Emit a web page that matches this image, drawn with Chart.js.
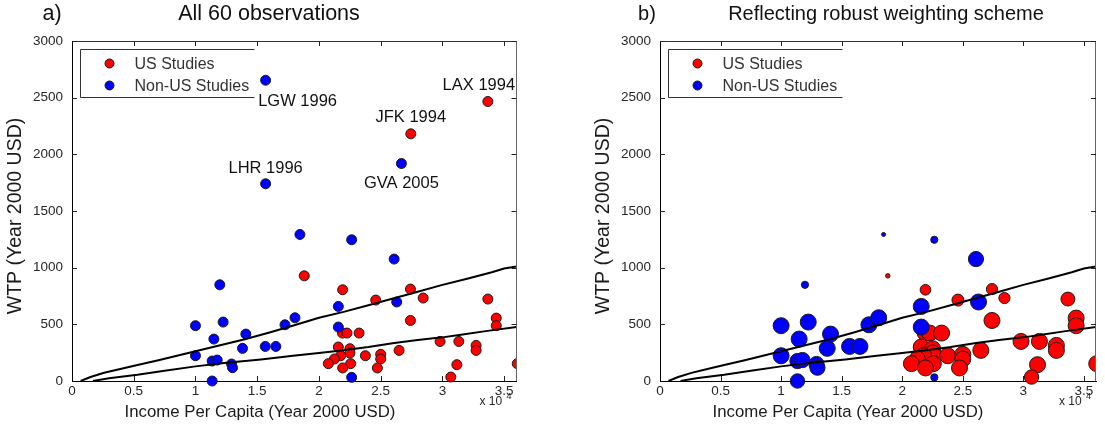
<!DOCTYPE html>
<html>
<head>
<meta charset="utf-8">
<script src="https://cdn.jsdelivr.net/npm/chart.js@4.4.0/dist/chart.umd.min.js"></script>
<style>
  body { margin: 0; background: #fff; }
  .panel { position: absolute; top: 0; width: 552px; height: 432px; }
</style>
</head>
<body>
<div class="panel" style="left:0"><canvas id="chartA"></canvas></div>
<div class="panel" style="left:553px"><canvas id="chartB"></canvas></div>
<script>
// ---- DATA (income in USD, WTP in year-2000 USD) ----
const usIncome = [18810, 21920, 24600, 27410, 28440, 33680, 27410, 34360, 34360, 21900, 22270, 23250,
                  21570, 22510, 22510, 21760, 21250, 20760, 22570, 21920, 23760, 25000, 25000, 24730,
                  26490, 29810, 31330, 32730, 32730, 31170, 30680, 36060, 27440, 33680];
const usWTP = [928, 805, 714, 811, 732, 723, 534, 555, 488, 423, 423, 423,
               300, 285, 247, 223, 194, 153, 153, 115, 223, 235, 194, 115,
               270, 349, 349, 314, 270, 144, 35, 153, 2181, 2466];
const usWeight = [0.28, 0.67, 0.75, 0.7, 0.7, 0.87, 1, 1, 1, 1, 1, 1,
                  1, 1, 1, 1, 1, 1, 1, 1, 1, 1, 1, 1,
                  1, 1, 1, 1, 1, 1, 0.9, 1, 0, 0];

const nonUsIncome = [10000, 10000, 11970, 12240, 11490, 11350, 11760, 11350, 12920, 13000, 13810, 14080, 15650,
                     16510, 17250, 18060, 18460, 22650, 26090, 21570, 21570, 26300, 22650, 26680, 15680, 15680];
const nonUsWTP = [488, 223, 849, 520, 370, 176, 185, 0, 150, 117, 288, 414, 305,
                  305, 496, 558, 1293, 1246, 1076, 658, 476, 697, 32, 1919, 2654, 1740];
const nonUsWeight = [1, 1, 0.45, 1, 1, 0.95, 0.95, 0.9, 0.95, 0.95, 1, 1, 1,
                     1, 1, 1, 0.25, 0.45, 0.95, 1, 1, 1, 0.45, 0, 0, 0];

// fitted curves
const upperIncome = [700, 1500, 2600, 4000, 5300, 7000, 8500, 10000, 12000, 14000, 16000, 18000, 20000,
                     22000, 24000, 26000, 28000, 30000, 32000, 34000, 35000, 36000];
const upperWTP = [0, 35, 72, 108, 142, 183, 222, 262, 315, 368, 428, 492, 558,
                  610, 668, 728, 788, 848, 903, 960, 992, 1010];
const lowerIncome = [1700, 3000, 5300, 7500, 10000, 12500, 15300, 17900, 20000, 22000, 24000, 26100,
                     28000, 30000, 31500, 33500, 36000];
const lowerWTP = [0, 25, 55, 90, 129, 160, 190, 223, 247, 272, 300, 335,
                  362, 385, 408, 440, 476];

// labelled outliers (series, index)
const outlierNames = ['LGW 1996', 'LHR 1996', 'GVA 2005', 'JFK 1994', 'LAX 1994'];
const outlierSeries = ['nonUS', 'nonUS', 'nonUS', 'US', 'US'];
const outlierIndex = [24, 25, 23, 32, 33];

const xTickValues = [0, 5000, 10000, 15000, 20000, 25000, 30000, 35000];
const yTickValues = [0, 500, 1000, 1500, 2000, 2500, 3000];
const legendNames = ['US Studies', 'Non-US Studies'];

// ---- STYLE ----
const FONT = "'Liberation Sans', Arial, sans-serif";
const TEXT = '#262626';
const RED = '#ff0000';
const BLUE = '#0000ff';
const EDGE = '#1a1a1a';
const MAX_BUBBLE = 8;
const labelOffsets = [[32, 21], [0, -15], [0, 20], [0, -16], [-9, -16]];

const xy = (xs, ys) => xs.map((x, i) => ({ x: x, y: ys[i] }));
const bubbles = (xs, ys, ws) => xs.map((x, i) => ({ x: x, y: ys[i], r: ws[i] * MAX_BUBBLE }));

function makeDecor(cfg) {
    return {
        id: 'decor',
        afterDatasetsDraw(chart) {
            const { ctx, chartArea: a, scales: { x, y } } = chart;
            ctx.save();
            ctx.lineWidth = 1;

            // top/right frame
            const T = Math.round(a.top) + 0.5, R = Math.round(a.right) - 0.5;
            ctx.strokeStyle = '#333';
            ctx.beginPath();
            ctx.moveTo(a.left, T); ctx.lineTo(a.right, T);
            ctx.stroke();
            ctx.strokeStyle = '#666';
            ctx.beginPath();
            ctx.moveTo(R, a.top); ctx.lineTo(R, a.bottom);
            ctx.stroke();

            // inward ticks on all sides
            ctx.strokeStyle = '#222';
            ctx.beginPath();
            x.ticks.forEach(t => {
                const px = Math.round(x.getPixelForValue(t.value)) + 0.5;
                if (t.value === 0) return;
                ctx.moveTo(px, a.bottom); ctx.lineTo(px, a.bottom - 5);
                ctx.moveTo(px, a.top); ctx.lineTo(px, a.top + 5);
            });
            y.ticks.forEach(t => {
                const py = Math.round(y.getPixelForValue(t.value)) + 0.5;
                if (t.value === 0) return;
                ctx.moveTo(a.left, py); ctx.lineTo(a.left + 5, py);
                ctx.moveTo(a.right, py); ctx.lineTo(a.right - 5, py);
            });
            ctx.stroke();

            // legend box (no right edge, as in the original)
            const bl = Math.round(a.left + 8) + 0.5, bt = Math.round(a.top + 8) + 0.5;
            const br = bl + 174, bb = bt + 48;
            ctx.fillStyle = '#fff';
            ctx.fillRect(bl, bt, br - bl, bb - bt);
            ctx.strokeStyle = '#333';
            ctx.beginPath();
            ctx.moveTo(br, bt); ctx.lineTo(bl, bt); ctx.lineTo(bl, bb); ctx.lineTo(br, bb);
            ctx.stroke();
            [RED, BLUE].forEach((c, i) => {
                const cy = bt + 14 + i * 22;
                ctx.beginPath();
                ctx.arc(bl + 29, cy, 4.5, 0, Math.PI * 2);
                ctx.fillStyle = c; ctx.fill();
                ctx.strokeStyle = EDGE; ctx.stroke();
                ctx.fillStyle = '#333';
                ctx.font = '16px ' + FONT;
                ctx.textAlign = 'left'; ctx.textBaseline = 'middle';
                ctx.fillText(legendNames[i], bl + 54, cy + 1);
            });

            // outlier labels
            if (cfg.outliers) {
                ctx.fillStyle = '#111';
                ctx.font = '16.5px ' + FONT;
                ctx.textAlign = 'center'; ctx.textBaseline = 'middle';
                outlierNames.forEach((name, i) => {
                    const us = outlierSeries[i] === 'US';
                    const k = outlierIndex[i];
                    const px = x.getPixelForValue(us ? usIncome[k] : nonUsIncome[k]);
                    const py = y.getPixelForValue(us ? usWTP[k] : nonUsWTP[k]);
                    ctx.fillText(name, px + labelOffsets[i][0], py + labelOffsets[i][1]);
                });
            }

            // panel titles
            ctx.fillStyle = '#111';
            ctx.textAlign = 'center'; ctx.textBaseline = 'middle';
            ctx.font = cfg.titleSize + 'px ' + FONT;
            ctx.fillText(cfg.letter, cfg.letterX, 14);
            ctx.fillText(cfg.title, cfg.titleX, 14);

            // axis titles
            ctx.fillStyle = '#1a1a1a';
            ctx.font = '16.8px ' + FONT;
            ctx.fillText('Income Per Capita (Year 2000 USD)', a.left + 188, a.bottom + 31);
            ctx.save();
            ctx.translate(a.left - 56, (a.top + a.bottom) / 2 + 5);
            ctx.rotate(-Math.PI / 2);
            ctx.font = '19.5px ' + FONT;
            ctx.fillText('WTP (Year 2000 USD)', 0, 0);
            ctx.restore();

            // x 10^4 multiplier
            ctx.fillStyle = TEXT;
            ctx.textAlign = 'left';
            ctx.font = '12px ' + FONT;
            ctx.fillText('x 10', a.right - 37, a.bottom + 21);
            ctx.font = '9px ' + FONT;
            ctx.fillText('4', a.right - 10, a.bottom + 16);
            ctx.restore();
        }
    };
}

function makeChart(id, cfg) {
    const pointDatasets = cfg.bubble ? [
        { type: 'bubble', data: bubbles(nonUsIncome, nonUsWTP, nonUsWeight), backgroundColor: BLUE, borderColor: EDGE, borderWidth: 1, order: 1 },
        { type: 'bubble', data: bubbles(usIncome, usWTP, usWeight), backgroundColor: RED, borderColor: EDGE, borderWidth: 1, order: 2 }
    ] : [
        { data: xy(nonUsIncome, nonUsWTP), backgroundColor: BLUE, borderColor: EDGE, borderWidth: 1, pointRadius: 5, order: 1 },
        { data: xy(usIncome, usWTP), backgroundColor: RED, borderColor: EDGE, borderWidth: 1, pointRadius: 5, order: 2 }
    ];
    pointDatasets.forEach(d => { d.clip = { left: 20, top: 20, right: 0, bottom: 20 }; });

    const lineDs = (xs, ys) => ({
        type: 'line', data: xy(xs, ys), showLine: true, borderColor: '#000', borderWidth: 2,
        pointRadius: 0, fill: false, tension: 0, order: 0
    });

    return new Chart(document.getElementById(id), {
        type: 'scatter',
        data: { datasets: [lineDs(upperIncome, upperWTP), lineDs(lowerIncome, lowerWTP)].concat(pointDatasets) },
        options: {
            responsive: true,
            maintainAspectRatio: false,
            animation: false,
            events: [],
            layout: { padding: { left: 0, right: cfg.padRight, top: 41, bottom: 0 } },
            plugins: { legend: { display: false }, tooltip: { enabled: false } },
            scales: {
                x: {
                    type: 'linear', min: 0, max: 36000,
                    afterBuildTicks: s => { s.ticks = xTickValues.map(v => ({ value: v })); },
                    afterFit: s => { s.height = 51; },
                    grid: { display: false, drawTicks: false },
                    border: { display: true, color: '#000', width: 1 },
                    ticks: {
                        padding: 2, color: TEXT, maxRotation: 0, autoSkip: false,
                        font: { family: FONT, size: 13.5 },
                        callback: v => String(v / 10000)
                    }
                },
                y: {
                    type: 'linear', min: 0, max: 3000,
                    afterBuildTicks: s => { s.ticks = yTickValues.map(v => ({ value: v })); },
                    afterFit: s => { s.width = cfg.yWidth; },
                    grid: { display: false, drawTicks: false },
                    border: { display: true, color: '#000', width: 1 },
                    ticks: {
                        padding: 9, color: TEXT, autoSkip: false, font: { family: FONT, size: 13.5 },
                        callback: v => String(v)
                    }
                }
            }
        },
        plugins: [makeDecor(cfg)]
    });
}

makeChart('chartA', {
    bubble: false, outliers: true, yWidth: 72, padRight: 35.5, titleSize: 21.5,
    letter: 'a)', letterX: 52, title: 'All 60 observations', titleX: 269
});
makeChart('chartB', {
    bubble: true, outliers: false, yWidth: 107, padRight: 1, titleSize: 20,
    letter: 'b)', letterX: 94, title: 'Reflecting robust weighting scheme', titleX: 333
});
</script>
</body>
</html>
